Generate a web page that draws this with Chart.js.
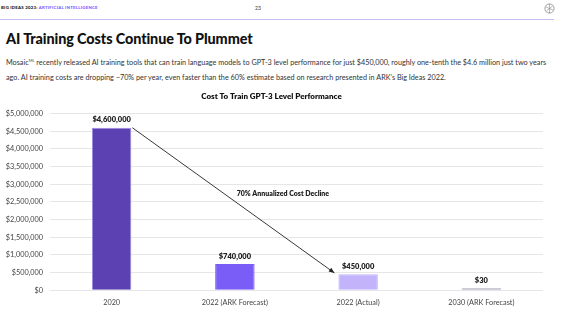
<!DOCTYPE html>
<html>
<head>
<meta charset="utf-8">
<script src="https://cdn.jsdelivr.net/npm/chart.js@4.4.0/dist/chart.umd.min.js"></script>
<style>
  body { margin: 0; width: 563px; height: 316px; background: #fff; font-family: Lato, "Noto Sans", sans-serif; overflow: hidden; position: relative; }
  .topo { position: absolute; left: 1px; top: 5px; font-size: 4.3px; font-weight: 900; letter-spacing: 0.25px; color: #111; }
  .topo span { color: #7b61ff; }
  .pagina { position: absolute; left: 255px; top: 5px; font-size: 5px; color: #333; }
  .linha { position: absolute; left: 0; top: 19px; width: 554px; height: 1px; background: #c9bdf5; }
  .icone { position: absolute; left: 544px; top: 3px; }
  h1 { position: absolute; left: 6px; top: 30px; margin: 0; font-size: 14.4px; font-weight: 900; color: #111; letter-spacing: -0.1px; }
  .texto { position: absolute; left: 6px; top: 53px; width: 556px; font-size: 7.25px; line-height: 15px; color: #333; }
  #grafico { position: absolute; left: 0; top: 86px; }
</style>
</head>
<body>
<div class="topo">BIG IDEAS 2023: <span>ARTIFICIAL INTELLIGENCE</span></div>
<div class="pagina">23</div>
<svg class="icone" width="11" height="11" viewBox="0 0 11 11">
  <circle cx="5.5" cy="5.5" r="4.6" fill="none" stroke="#888" stroke-width="0.8"/>
  <path d="M2 4 L9 7 M5.5 1 L5.5 10 M2.5 8 L8.5 3" stroke="#888" stroke-width="0.6" fill="none"/>
</svg>
<div class="linha"></div>
<h1>AI Training Costs Continue To Plummet</h1>
<div class="texto">Mosaic<sup style="font-size:4px">ML</sup> recently released AI training tools that can train language models to GPT-3 level performance for just $450,000, roughly one-tenth the $4.6 million just two years<br>ago. AI training costs are dropping ~70% per year, even faster than the 60% estimate based on research presented in ARK’s Big Ideas 2022.</div>
<canvas id="grafico" width="563" height="230"></canvas>

<script>
// dados do grafico
const categorias = ['2020', '2022 (ARK Forecast)', '2022 (Actual)', '2030 (ARK Forecast)'];
const custos = [4600000, 740000, 450000, 30];
const rotulosBarras = ['$4,600,000', '$740,000', '$450,000', '$30'];
const coresBarras = ['#5b41b2', '#7a5cf7', '#c2b3fb', '#a9a6b8'];
const bordasBarras = ['#9c8ae0', '#7a5cf7', '#c2b3fb', '#a9a6b8'];
const eixoY = { max: 5000000, passo: 500000 };

// seta "70% Annualized Cost Decline"
const seta = { inicio: 4600000, fimCategoria: 2, fimValor: 490000, texto: '70% Annualized Cost Decline', textoX: 1.39, textoY: 2740000 };

const fonte = 'Lato, "Noto Sans", sans-serif';

function formatarDolar(v) {
  return '$' + Number(v).toLocaleString('en-US');
}

const pluginRotulos = {
  id: 'rotulos',
  afterDatasetsDraw(chart) {
    const ctx = chart.ctx;
    const meta = chart.getDatasetMeta(0);
    ctx.save();
    ctx.font = '800 7.5px ' + fonte;
    ctx.fillStyle = '#222';
    ctx.textAlign = 'center';
    ctx.textBaseline = 'bottom';
    meta.data.forEach((bar, i) => {
      ctx.fillText(rotulosBarras[i], bar.x, bar.y - 4);
    });
    ctx.restore();
  }
};

const pluginSeta = {
  id: 'seta',
  afterDatasetsDraw(chart) {
    const ctx = chart.ctx;
    const x = chart.scales.x;
    const y = chart.scales.y;
    const bars = chart.getDatasetMeta(0).data;
    const meia = bars[0].width / 2;
    const x1 = x.getPixelForValue(0) + meia + 1;
    const y1 = y.getPixelForValue(seta.inicio);
    const x2 = x.getPixelForValue(seta.fimCategoria) - meia - 4;
    const y2 = y.getPixelForValue(seta.fimValor);
    ctx.save();
    ctx.strokeStyle = '#222';
    ctx.fillStyle = '#222';
    ctx.lineWidth = 0.9;
    ctx.beginPath();
    ctx.moveTo(x1, y1);
    ctx.lineTo(x2, y2);
    ctx.stroke();
    const ang = Math.atan2(y2 - y1, x2 - x1);
    ctx.beginPath();
    ctx.moveTo(x2, y2);
    ctx.lineTo(x2 - 6 * Math.cos(ang - 0.4), y2 - 6 * Math.sin(ang - 0.4));
    ctx.lineTo(x2 - 6 * Math.cos(ang + 0.4), y2 - 6 * Math.sin(ang + 0.4));
    ctx.closePath();
    ctx.fill();
    ctx.font = '800 7px ' + fonte;
    ctx.textAlign = 'center';
    ctx.textBaseline = 'middle';
    ctx.fillText(seta.texto, x.getPixelForValue(seta.textoX), y.getPixelForValue(seta.textoY));
    ctx.restore();
  }
};

new Chart(document.getElementById('grafico'), {
  type: 'bar',
  data: {
    labels: categorias,
    datasets: [{
      data: custos,
      backgroundColor: coresBarras,
      borderColor: bordasBarras,
      borderWidth: 1,
      barPercentage: 0.32,
      categoryPercentage: 1,
      minBarLength: 2
    }]
  },
  options: {
    responsive: false,
    animation: false,
    layout: { padding: { left: 0, right: 20, top: 0, bottom: 1 } },
    plugins: {
      legend: { display: false },
      tooltip: { enabled: false },
      title: {
        display: true,
        text: 'Cost To Train GPT-3 Level Performance',
        color: '#111',
        font: { family: fonte, size: 8, weight: '800' },
        padding: { top: 6, bottom: 12 }
      }
    },
    scales: {
      y: {
        beginAtZero: true,
        max: eixoY.max,
        afterFit(scale) { scale.width = 50; },
        border: { display: false },
        grid: { color: '#e6e6ea', lineWidth: 1, drawTicks: false },
        ticks: {
          stepSize: eixoY.passo,
          color: '#444',
          padding: 7,
          font: { family: fonte, size: 7.3 },
          callback: v => formatarDolar(v)
        }
      },
      x: {
        border: { display: false },
        grid: {
          drawTicks: false,
          color: c => (c.index === categorias.length ? '#e0e0e6' : 'rgba(0,0,0,0)')
        },
        ticks: {
          color: '#444',
          padding: 8,
          font: { family: fonte, size: 7.3 }
        }
      }
    }
  },
  plugins: [pluginRotulos, pluginSeta]
});
</script>
</body>
</html>
